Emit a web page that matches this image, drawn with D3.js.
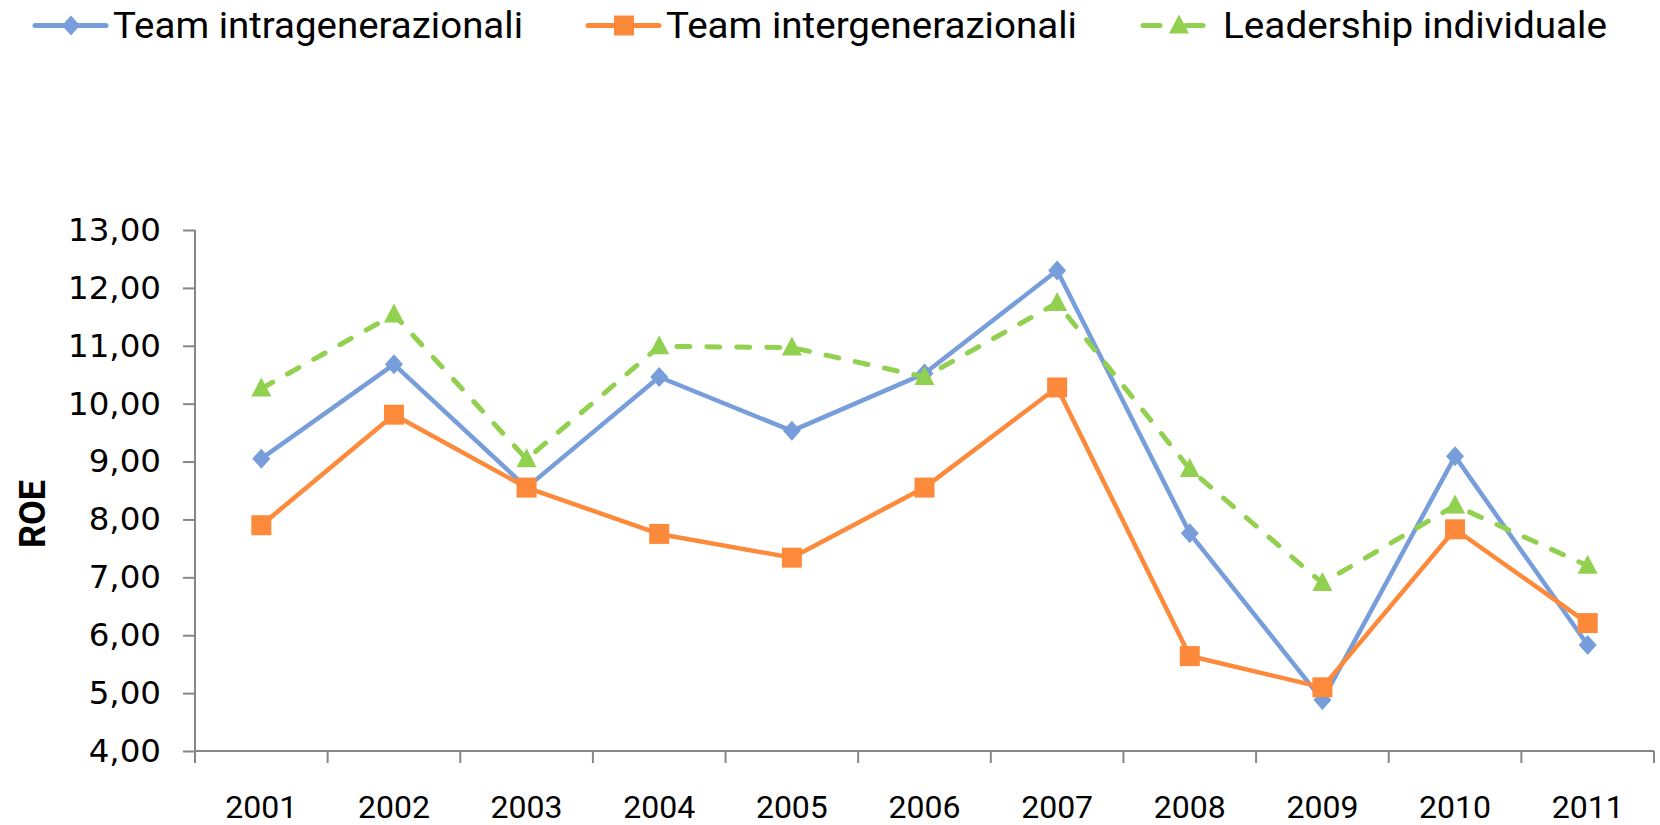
<!DOCTYPE html>
<html>
<head>
<meta charset="utf-8">
<script src="https://cdn.jsdelivr.net/npm/d3@7"></script>
<style>
  body { margin: 0; background: #fff; }
  .axis path, .axis line { stroke: #868686; stroke-width: 2; }
  .axis text { fill: #000; }
  .axis__y text { font-family: "DejaVu Sans", Verdana, sans-serif; font-size: 32.5px; }
  .axis__x text { font-family: "Roboto", sans-serif; font-size: 32px; }
  .legendText { font-family: "Roboto", sans-serif; font-size: 37px; fill: #000; }
  .yTitle { font-family: "Roboto", sans-serif; font-size: 36px; font-weight: bold; }
</style>
</head>
<body>
<div class="roeGraph"></div>
<script>
// chart values
const years = ["2001", "2002", "2003", "2004", "2005", "2006", "2007", "2008", "2009", "2010", "2011"]
const intra = [9.05, 10.68, 8.55, 10.46, 9.53, 10.52, 12.30, 7.76, 4.88, 9.09, 5.83]
const inter = [7.90, 9.81, 8.55, 7.75, 7.34, 8.55, 10.28, 5.64, 5.10, 7.83, 6.21]
const leader = [10.26, 11.54, 9.04, 10.99, 10.97, 10.46, 11.74, 8.87, 6.90, 8.24, 7.20]
const yTicks = [4, 5, 6, 7, 8, 9, 10, 11, 12, 13]
const seriesNames = ["Team intragenerazionali", "Team intergenerazionali", "Leadership individuale"]

const width = 1660
const height = 825
const margins = { top: 230, right: 6, bottom: 74, left: 195 }

const fmt = d3.formatLocale({ decimal: ',', thousands: '.', grouping: [3], currency: ['', '€'] }).format(',.2f')

const svg = d3.select('.roeGraph')
    .append('svg')
    .attr('width', width)
    .attr('height', height)

const xScale = d3.scaleBand()
    .domain(years)
    .range([margins.left, width - margins.right])

const yScale = d3.scaleLinear()
    .domain([4, 13])
    .range([height - margins.bottom, margins.top])

// y axis
svg.append('g')
    .attr('class', 'axis axis__y')
    .attr('transform', `translate(${margins.left},0)`)
    .call(d3.axisLeft(yScale)
        .tickValues(yTicks)
        .tickSize(12)
        .tickSizeOuter(0)
        .tickPadding(22)
        .tickFormat(fmt))
    .select('.domain').attr('d', `M0,${margins.top}V${height - margins.bottom + 12}`)

// x axis, ticks sit between the categories
const xAxis = svg.append('g')
    .attr('class', 'axis axis__x')
    .attr('transform', `translate(0,${height - margins.bottom})`)
    .call(d3.axisBottom(xScale).tickSize(0).tickSizeOuter(0).tickPadding(44))

xAxis.select('.domain').attr('d', `M${margins.left},0H${width - margins.right}`)
xAxis.selectAll('.sep')
    .data(years.concat(['end']))
    .join('line')
    .attr('class', 'sep')
    .attr('x1', (d, i) => i < years.length ? xScale(d) : xScale.range()[1])
    .attr('x2', (d, i) => i < years.length ? xScale(d) : xScale.range()[1])
    .attr('y1', 0)
    .attr('y2', 12)
xAxis.selectAll('text').attr('dy', '0.71em')

svg.append('text')
    .attr('class', 'yTitle')
    .attr('transform', `translate(45,514) rotate(-90)`)
    .attr('text-anchor', 'middle')
    .text('ROE')

// marker shapes
const diamond = 'M0,-10L9,0L0,10L-9,0Z'
const square = 'M-10,-10H10V10H-10Z'
const triangle = 'M0,-11L10,8L-10,8Z'

const series = [
    { name: seriesNames[0], values: intra, color: '#779EDA', dash: null, shape: diamond },
    { name: seriesNames[1], values: inter, color: '#FD8A3B', dash: null, shape: square },
    { name: seriesNames[2], values: leader, color: '#92D050', dash: '13,17', shape: triangle }
]

const line = d3.line()
    .x((d, i) => xScale(years[i]) + xScale.bandwidth() / 2)
    .y(d => yScale(d))

series.forEach(s => {
    const g = svg.append('g')
    g.append('path')
        .attr('d', line(s.values))
        .attr('fill', 'none')
        .attr('stroke', s.color)
        .attr('stroke-width', s.dash ? 5 : 4.5)
        .attr('stroke-linecap', 'round')
        .attr('stroke-linejoin', 'round')
        .attr('stroke-dasharray', s.dash)

    g.selectAll('path.marker')
        .data(s.values)
        .join('path')
        .attr('class', 'marker')
        .attr('d', s.shape)
        .attr('fill', s.color)
        .attr('transform', (d, i) => `translate(${xScale(years[i]) + xScale.bandwidth() / 2},${yScale(d)})`)
})

// legend
const legendX = [35, 588, 1143]
const legendW = [410, 411, 384]
const legend = svg.selectAll('.legendItem')
    .data(series)
    .join('g')
    .attr('class', 'legendItem')
    .attr('transform', (d, i) => `translate(${legendX[i]},25.5)`)

legend.append('line')
    .attr('x1', 0).attr('x2', (d, i) => i === 2 ? 62 : 71)
    .attr('stroke', d => d.color)
    .attr('stroke-width', 5)
    .attr('stroke-linecap', 'round')
    .attr('stroke-dasharray', d => d.dash ? '17,26' : null)

legend.append('path')
    .attr('d', d => d.shape)
    .attr('fill', d => d.color)
    .attr('transform', 'translate(36,0)')

legend.append('text')
    .attr('class', 'legendText')
    .attr('x', (d, i) => i === 2 ? 80 : 78)
    .attr('y', 12)
    .attr('textLength', (d, i) => legendW[i])
    .attr('lengthAdjust', 'spacingAndGlyphs')
    .text(d => d.name)
</script>
</body>
</html>
